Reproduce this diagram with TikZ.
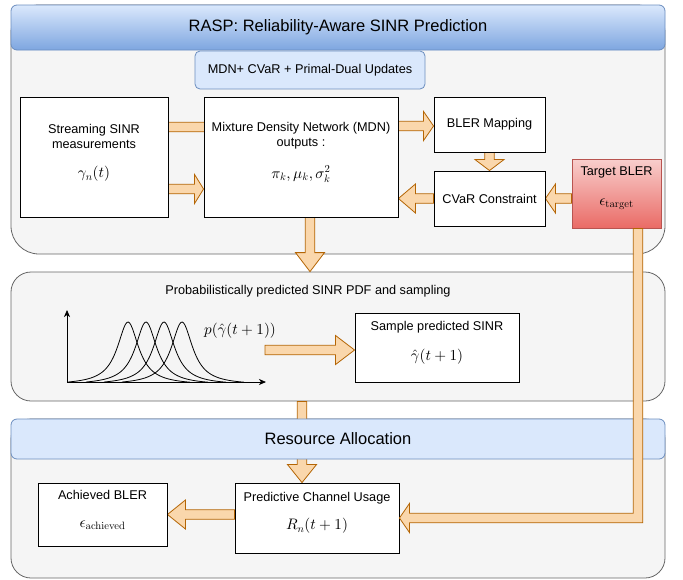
\documentclass[tikz,border=0pt]{standalone}
\usepackage[no-math]{fontspec}
\setmainfont{Liberation Sans}
\usetikzlibrary{calc,arrows.meta}
% scalable math fonts
\DeclareFontShape{OML}{cmm}{m}{it}{<->cmmi10}{}
\DeclareFontShape{OMS}{cmsy}{m}{n}{<->cmsy10}{}
\DeclareFontShape{OT1}{cmr}{m}{n}{<->cmr10}{}

\definecolor{panelfill}{HTML}{F5F5F5}
\definecolor{panelline}{HTML}{666666}
\definecolor{hdrtop}{HTML}{DAE8FC}
\definecolor{hdrbot}{HTML}{7EA6E0}
\definecolor{hdrline}{HTML}{6C8EBF}
\definecolor{fatfill}{HTML}{FAD7AC}
\definecolor{fatline}{HTML}{B46504}
\definecolor{tgttop}{HTML}{F8CECC}
\definecolor{tgtbot}{HTML}{EA6B66}
\definecolor{tgtline}{HTML}{B85450}

\pgfdeclarelayer{back}
\pgfdeclarelayer{mid}
\pgfsetlayers{back,mid,main}

\tikzset{
  panel/.style={draw=panelline, fill=panelfill, line width=0.8pt, inner sep=0pt},
  hdr/.style={draw=hdrline, fill=hdrtop, line width=0.8pt, rounded corners=6pt, inner sep=0pt, font=\fontsize{16.5}{19}\selectfont},
  box/.style={draw, fill=white, line width=0.9pt, inner sep=0pt, font=\fontsize{12.7}{15.2}\selectfont},
  lbl/.style={align=center, inner sep=0pt, font=\fontsize{12.7}{15.2}\selectfont},
  val/.style={inner sep=0pt, font=\fontsize{15.2}{18}\selectfont},
  fat/.style={draw=fatline, fill=fatfill, line width=0.8pt, line join=miter},
  axis/.style={line width=0.8pt, -{Stealth[length=7pt, width=6pt, inset=2pt]}},
}

% wide block arrow: [head length]{start}{tip}
\newcommand{\fatarrow}[3][10]{%
  \coordinate (fa-s) at #2;
  \coordinate (fa-t) at #3;
  \coordinate (fa-b) at ($(fa-t)!#1pt!(fa-s)$);
  \filldraw[fat] ($(fa-s)!4.75pt!90:(fa-t)$) -- ($(fa-b)!4.75pt!90:(fa-t)$)
    -- ($(fa-b)!14.5pt!90:(fa-t)$) -- (fa-t) -- ($(fa-b)!14.5pt!-90:(fa-t)$)
    -- ($(fa-b)!4.75pt!-90:(fa-t)$) -- ($(fa-s)!4.75pt!-90:(fa-t)$) -- cycle;}

\begin{document}
\begin{tikzpicture}[x=1pt, y=-1pt]
\useasboundingbox (0,0) rectangle (683,579);

% panels
\begin{pgfonlayer}{back}
\node[panel, rounded corners=28pt, minimum width=654, minimum height=249] (top) at (338,129.5) {};
\node[hdr, top color=hdrtop, bottom color=hdrbot, minimum width=654, minimum height=45] (rasp) at (338,27.5) {RASP: Reliability-Aware SINR Prediction};
\node[hdr, rounded corners=5pt, minimum width=230, minimum height=38, font=\fontsize{12.7}{15.2}\selectfont] (mdnplus) at (310,70) {MDN+ CVaR + Primal-Dual Updates};
\node[panel, rounded corners=20pt, minimum width=654, minimum height=129] (pdf) at (338,336.5) {};
\node[panel, rounded corners=20pt, minimum width=654, minimum height=159] (alloc) at (338,498.5) {};
\end{pgfonlayer}

% prediction blocks
\node[box, minimum width=148, minimum height=120] (stream) at (94,157) {};
\node[lbl] (stream-lbl) at (94,136.5) {Streaming SINR\\measurements};
\node[val] (stream-val) at (94,174) {$\gamma_n(t)$};

\node[box, minimum width=194, minimum height=120] (mdn) at (301,157) {};
\node[lbl] (mdn-lbl) at (301,135.5) {Mixture Density Network (MDN)\\outputs :};
\node[val] (mdn-val) at (301,174) {$\pi_k, \mu_k, \sigma_k^2$};

\node[box, minimum width=111, minimum height=55] (bler) at (489.5,124.5) {BLER Mapping};
\node[box, minimum width=111, minimum height=55] (cvar) at (489.5,198.5) {CVaR Constraint};

\node[box, draw=tgtline, top color=tgttop, bottom color=tgtbot, minimum width=89, minimum height=69] (target) at (616.5,193.5) {};
\node[lbl] (target-lbl) at (616.5,172) {Target BLER};
\node[val] (target-val) at (616.5,204) {$\epsilon_{\mathrm{target}}$};

% pdf and sampling
\node[lbl] (pdf-lbl) at (308,291) {Probabilistically predicted SINR PDF and sampling};
\coordinate (origin) at (67,382);
\draw[axis] (origin) -- (67,310);
\draw[axis] (origin) -- (266,382);
\foreach \c in {128,146,164,182}
  \draw[line width=0.8pt] plot[domain=-60:62, samples=90, smooth]
    ({\c+\x}, {382-60*(1/(1+(\x/13)*(\x/13))-0.045)/0.955});
\node[val] (pdf-val) at (240,331) {$p(\hat\gamma(t+1))$};
\coordinate (pdf-out) at (265,350);

\node[box, minimum width=164, minimum height=69] (sample) at (437,347.5) {};
\node[lbl] (sample-lbl) at (437,327) {Sample predicted SINR};
\node[val] (sample-val) at (437,357) {$\hat\gamma(t+1)$};

% resource allocation
\node[hdr, minimum width=654, minimum height=40] (alloc-hdr) at (338,439) {Resource Allocation};

\node[box, minimum width=129, minimum height=63] (achieved) at (102.5,514.5) {};
\node[lbl] (achieved-lbl) at (102.5,495) {Achieved BLER};
\node[val] (achieved-val) at (102.5,525) {$\epsilon_{\mathrm{achieved}}$};

\node[box, minimum width=164, minimum height=70] (usage) at (317,518) {};
\node[lbl] (usage-lbl) at (317,498) {Predictive Channel Usage};
\node[val] (usage-val) at (317,526) {$R_n(t+1)$};

% block arrows
\coordinate (mdn-in) at (224,127);
\begin{pgfonlayer}{mid}
\fatarrow{(stream.east |- mdn-in)}{(mdn-in)}
\fatarrow[9]{(stream.east |- 0,189)}{(mdn.west |- 0,189)}
\fatarrow{(mdn.east |- 0,126)}{(bler.west |- 0,126)}
\fatarrow[11]{(bler.south)}{(cvar.north)}
\fatarrow[17]{(cvar.west)}{(mdn.east |- cvar.west)}
\fatarrow{(target.west |- cvar.west)}{(cvar.east)}
\fatarrow[19]{(mdn.south -| 310,0)}{(pdf.north -| 310,0)}
\fatarrow[19]{(pdf-out)}{(sample.west |- pdf-out)}
\fatarrow[18]{(pdf.south -| 302,0)}{(usage.north -| 302,0)}
\fatarrow[18]{(usage.west |- achieved.east)}{(achieved.east)}
\end{pgfonlayer}

% target BLER feeds the channel usage
\filldraw[fat] let \p1=(target.south), \p2=(usage.east) in
  (\x1+16.75pt,\y1) -- (\x1+16.75pt,\y2+4.75pt) -- (\x2+10pt,\y2+4.75pt)
  -- (\x2+10pt,\y2+14.5pt) -- (\x2,\y2) -- (\x2+10pt,\y2-14.5pt)
  -- (\x2+10pt,\y2-4.75pt) -- (\x1+26.25pt,\y2-4.75pt) -- (\x1+26.25pt,\y1) -- cycle;
\end{tikzpicture}
\end{document}
